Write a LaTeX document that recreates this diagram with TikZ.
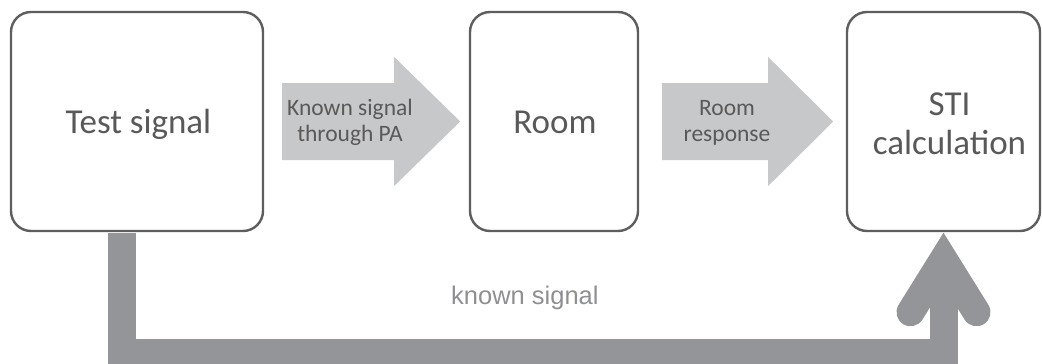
\documentclass[tikz,border=0pt]{standalone}
\usepackage{fontspec}
\setmainfont{Carlito}
\newfontfamily\linkfont{Liberation Sans}
\usetikzlibrary{calc}

\definecolor{boxline}{HTML}{5E5E5E}
\definecolor{boxtext}{HTML}{595959}
\definecolor{flowfill}{HTML}{C7C8CA}
\definecolor{linkfill}{HTML}{939598}
\definecolor{linktext}{HTML}{8E8F92}

% block arrow: start point, shaft length, total length
\newcommand\flowarrow[3]{%
  \fill[flowfill] ($(#1)+(0,-38.5)$) -- ($(#1)+(#2,-38.5)$) -- ($(#1)+(#2,-64.5)$)
    -- ($(#1)+(#3,0)$) -- ($(#1)+(#2,64.5)$) -- ($(#1)+(#2,38.5)$)
    -- ($(#1)+(0,38.5)$) -- cycle;}

\begin{document}
\begin{tikzpicture}[x=1pt,y=-1pt,
  stage/.style={draw=boxline, line width=2.4pt, rounded corners=20pt,
    fill=white, inner sep=0pt, minimum height=219pt},
  stagetext/.style={text=boxtext, font=\fontsize{35}{39}\selectfont,
    align=center, inner sep=0pt},
  flowtext/.style={text=boxtext, font=\fontsize{23.5}{25.5}\selectfont,
    align=center, inner sep=0pt},
  link/.style={draw=linkfill, line width=28pt, line join=miter},
  linklabel/.style={text=linktext, font=\linkfont\fontsize{25.5}{30}\selectfont,
    inner sep=0pt}]

\useasboundingbox (0,0) rectangle (1042,364);

% stages
\node[stage, minimum width=252pt] (test) at (137,121.5) {};
\node[stage, minimum width=168pt] (room) at (554,121.5) {};
\node[stage, minimum width=193pt] (sti)  at (943.5,121.5) {};

\node[stagetext, anchor=base] (testlabel) at (138.5,133) {Test signal};
\node[stagetext, anchor=base] (roomlabel) at (555,133) {Room};
\node[stagetext] (stilabel) at (949.5,123.5) {STI\\calculation};

% signal flow between stages
\coordinate (pa start) at ($(test.east)+(18,0)$);
\coordinate (rr start) at ($(room.east)+(23,0)$);
\flowarrow{pa start}{112}{178}
\flowarrow{rr start}{106}{171}
\node[flowtext] (palabel) at (350,122.5) {Known signal\\through PA};
\node[flowtext] (rrlabel) at (727,123) {Room\\response};

% known signal path from the test signal to the calculation
\coordinate (down) at ($(test.south west)+(112,1.2)$);
\coordinate (apex) at ($(sti.south)+(0,27)$);
\coordinate (wing l) at ($(apex)+(-33,53)$);
\coordinate (wing r) at ($(apex)+(33,53)$);
\draw[link] (down) |- ($(down)+(0,119.3)$) -| (apex);
\draw[link, line cap=round] (wing l) -- (apex) -- (wing r);
\node[linklabel, anchor=base west] (linklabel) at (451,304) {known signal};

\end{tikzpicture}
\end{document}
